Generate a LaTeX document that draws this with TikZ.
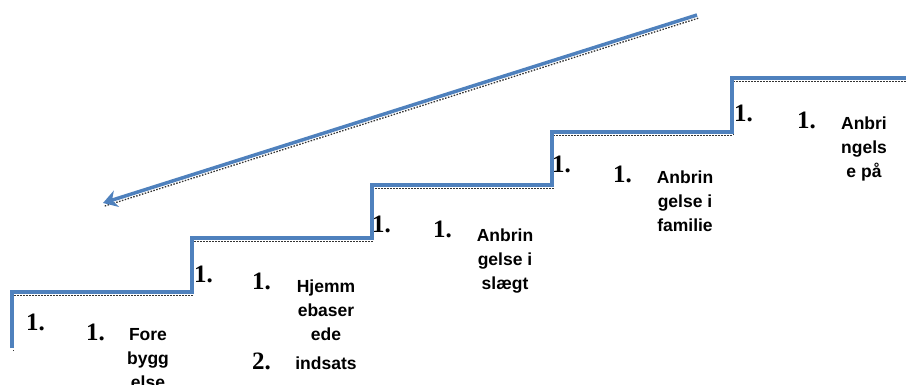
\documentclass[tikz,border=0pt]{standalone}
\usepackage{fontspec}
\setmainfont{Liberation Sans}
\newfontfamily\numfont{Liberation Serif}
\usetikzlibrary{arrows.meta}
\definecolor{stairblue}{RGB}{79,129,189}
\begin{document}
\begin{tikzpicture}[x=1pt,y=-1pt,
  stair/.style={stairblue, line width=3.5pt, line join=miter},
  shadowline/.style={black!80, line width=1.3pt, dash pattern=on 1.5pt off 1.5pt,
    transform canvas={xshift=1.2pt, yshift=-3.2pt}},
  num/.style={font=\numfont\bfseries\fontsize{25}{28}\selectfont, inner sep=0pt, anchor=base west},
  item/.style={font=\bfseries\fontsize{17.5}{24}\selectfont, inner sep=0pt, align=center, anchor=north}]
\useasboundingbox (0,0) rectangle (906,385);
% staircase corners
\coordinate (s0) at (12,348);
\coordinate (s1) at (12,292);
\coordinate (s2) at (192,292);
\coordinate (s3) at (192,238);
\coordinate (s4) at (372,238);
\coordinate (s5) at (372,185);
\coordinate (s6) at (552,185);
\coordinate (s7) at (552,132);
\coordinate (s8) at (732,132);
\coordinate (s9) at (732,78);
\coordinate (s10) at (910,78);
% arrow ends
\coordinate (atail) at (697,15);
\coordinate (ahead) at (103,203);
% shadows
\draw[shadowline] (s0) -- (s1) -- (s2) -- (s3) -- (s4) -- (s5) -- (s6) -- (s7) -- (s8) -- (s9) -- (s10);
\draw[shadowline] (atail) -- (ahead);
% staircase and arrow
\draw[stair] (s0) -- (s1) -- (s2) -- (s3) -- (s4) -- (s5) -- (s6) -- (s7) -- (s8) -- (s9) -- (s10);
\draw[stair, -{Stealth[length=14pt,width=17pt]}] (atail) -- (ahead);
% corner numbers
\node[num] (c1) at (26,330) {1.};
\node[num] (c2) at (194,282) {1.};
\node[num] (c3) at (372,233) {1.};
\node[num] (c4) at (552,173) {1.};
\node[num] (c5) at (734,122) {1.};
% inner numbers
\node[num] (n1) at (86,340) {1.};
\node[num] (n2) at (252,290) {1.};
\node[num] (n2b) at (252,369) {2.};
\node[num] (n3) at (433,238) {1.};
\node[num] (n4) at (613,183) {1.};
\node[num] (n5) at (797,129) {1.};
% texts
\node[item] (t1) at (148,328.5) {Fore\\bygg\\else};
\node[item] (t2) at (326,279.5) {Hjemm\\ebaser\\ede};
\node[item] (t2b) at (326,356.5) {indsats};
\node[item] (t3) at (505,228.5) {Anbrin\\gelse i\\slægt};
\node[item] (t4) at (685,170.5) {Anbrin\\gelse i\\familie};
\node[item] (t5) at (864,116.5) {Anbri\\ngels\\e på};
\end{tikzpicture}
\end{document}
